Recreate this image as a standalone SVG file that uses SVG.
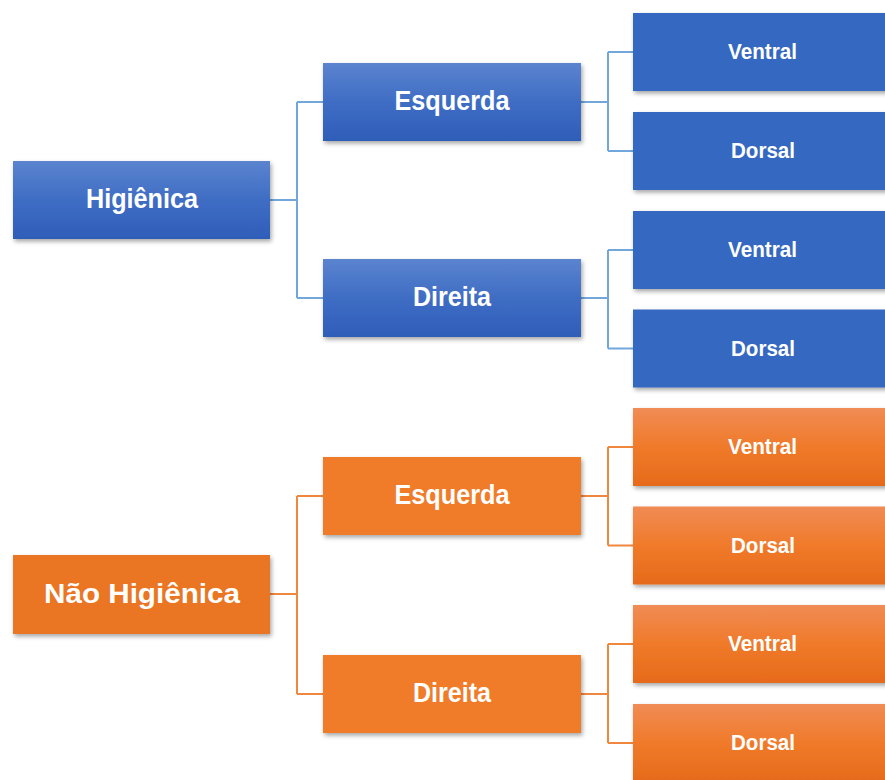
<svg xmlns="http://www.w3.org/2000/svg" width="885" height="780" viewBox="0 0 885 780">
<defs>
<filter id="sh" x="-10%" y="-20%" width="120%" height="150%">
<feDropShadow dx="1.5" dy="2.5" stdDeviation="2" flood-color="#000" flood-opacity="0.35"/>
</filter>
<linearGradient id="gb" x1="0" y1="0" x2="0" y2="1">
<stop offset="0" stop-color="#5b84cf"/>
<stop offset="0.5" stop-color="#3f6dc4"/>
<stop offset="1" stop-color="#2e5db8"/>
</linearGradient>
<linearGradient id="go" x1="0" y1="0" x2="0" y2="1">
<stop offset="0" stop-color="#f08c55"/>
<stop offset="0.5" stop-color="#f07a2a"/>
<stop offset="1" stop-color="#e66a1a"/>
</linearGradient>
</defs>
<style>
.t{font-family:"Liberation Sans",Arial,sans-serif;font-weight:bold;fill:#fff;text-anchor:middle}
.big{font-size:28px}
.sm{font-size:22px}
.bg{fill:url(#gb);filter:url(#sh)}
.bl{fill:#3668c0;filter:url(#sh)}
.og{fill:url(#go);filter:url(#sh)}
.of{fill:#ea7424;filter:url(#sh)}
.om{fill:#f07b2b;filter:url(#sh)}
.cb{fill:none;stroke:#72a7dc;stroke-width:2}
.co{fill:none;stroke:#f0873f;stroke-width:2}
</style>
<rect width="885" height="780" fill="#fff"/>
<g id="connectors">
<path class="cb" d="M270 200H297M297 102V298M297 102H323M297 298H323"/>
<path class="cb" d="M581 102H608M608 52V151M608 52H633M608 151H633"/>
<path class="cb" d="M581 298H608M608 250V348.5M608 250H633M608 348.5H633"/>
<path class="co" d="M270 594H297M297 496V694M297 496H323M297 694H323"/>
<path class="co" d="M581 496H608M608 447V545.5M608 447H633M608 545.5H633"/>
<path class="co" d="M581 694H608M608 644V743M608 644H633M608 743H633"/>
</g>
<g id="higienica"><rect class="bg" x="13" y="161" width="257" height="78"/><text class="t big" x="142" y="208" textLength="112" lengthAdjust="spacingAndGlyphs">Higiênica</text></g>
<g id="h-esquerda"><rect class="bg" x="323" y="63" width="258" height="78"/><text class="t big" x="452" y="110" textLength="115" lengthAdjust="spacingAndGlyphs">Esquerda</text></g>
<g id="h-direita"><rect class="bg" x="323" y="259" width="258" height="78"/><text class="t big" x="452" y="306" textLength="78" lengthAdjust="spacingAndGlyphs">Direita</text></g>
<g id="h-e-ventral"><rect class="bl" x="633" y="13" width="262" height="78"/><text class="t sm" x="762.5" y="59" textLength="69" lengthAdjust="spacingAndGlyphs">Ventral</text></g>
<g id="h-e-dorsal"><rect class="bl" x="633" y="112" width="262" height="78"/><text class="t sm" x="763" y="158" textLength="64" lengthAdjust="spacingAndGlyphs">Dorsal</text></g>
<g id="h-d-ventral"><rect class="bl" x="633" y="211" width="262" height="78"/><text class="t sm" x="762.5" y="257" textLength="69" lengthAdjust="spacingAndGlyphs">Ventral</text></g>
<g id="h-d-dorsal"><rect class="bl" x="633" y="309.5" width="262" height="78"/><text class="t sm" x="763" y="356" textLength="64" lengthAdjust="spacingAndGlyphs">Dorsal</text></g>
<g id="nao-higienica"><rect class="of" x="13" y="555" width="257" height="79"/><text class="t big" x="142" y="603" textLength="196" lengthAdjust="spacingAndGlyphs">Não Higiênica</text></g>
<g id="n-esquerda"><rect class="om" x="323" y="457" width="258" height="78"/><text class="t big" x="452" y="504" textLength="115" lengthAdjust="spacingAndGlyphs">Esquerda</text></g>
<g id="n-direita"><rect class="om" x="323" y="655" width="258" height="78"/><text class="t big" x="452" y="702" textLength="78" lengthAdjust="spacingAndGlyphs">Direita</text></g>
<g id="n-e-ventral"><rect class="og" x="633" y="408" width="262" height="78"/><text class="t sm" x="762.5" y="454" textLength="69" lengthAdjust="spacingAndGlyphs">Ventral</text></g>
<g id="n-e-dorsal"><rect class="og" x="633" y="506.5" width="262" height="78"/><text class="t sm" x="763" y="553" textLength="64" lengthAdjust="spacingAndGlyphs">Dorsal</text></g>
<g id="n-d-ventral"><rect class="og" x="633" y="605" width="262" height="78"/><text class="t sm" x="762.5" y="651" textLength="69" lengthAdjust="spacingAndGlyphs">Ventral</text></g>
<g id="n-d-dorsal"><rect class="og" x="633" y="704" width="262" height="78"/><text class="t sm" x="763" y="750" textLength="64" lengthAdjust="spacingAndGlyphs">Dorsal</text></g>
</svg>
